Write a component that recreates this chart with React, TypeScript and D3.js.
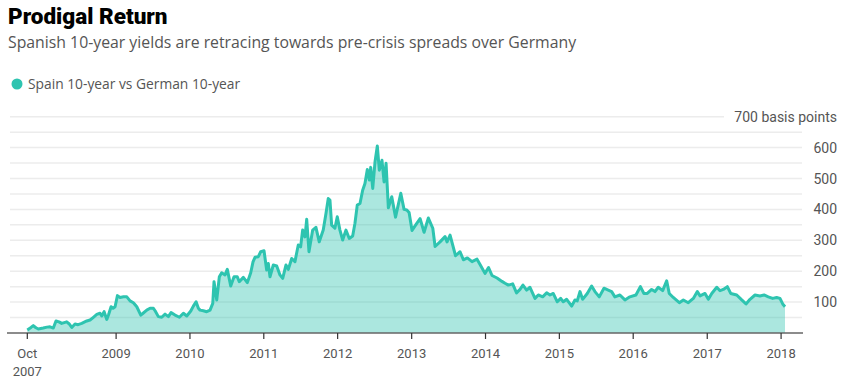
import React, { useEffect, useRef } from 'react';
import * as d3 from 'd3';

// decimal years
const years = [
  2007.800, 2007.850, 2007.881, 2007.917, 2007.949, 2008.016, 2008.066, 2008.107, 2008.152, 2008.188,
  2008.229, 2008.265, 2008.333, 2008.364, 2008.401, 2008.445, 2008.486, 2008.536, 2008.604, 2008.648,
  2008.689, 2008.739, 2008.783, 2008.806, 2008.838, 2008.874, 2008.899, 2008.932, 2008.959, 2008.986,
  2009.018, 2009.054, 2009.099, 2009.145, 2009.189, 2009.234, 2009.280, 2009.334, 2009.365, 2009.415,
  2009.460, 2009.505, 2009.528, 2009.572, 2009.618, 2009.663, 2009.708, 2009.744, 2009.798, 2009.857,
  2009.911, 2009.957, 2010.011, 2010.046, 2010.083, 2010.114, 2010.137, 2010.181, 2010.227, 2010.272,
  2010.309, 2010.326, 2010.363, 2010.398, 2010.430, 2010.475, 2010.506, 2010.552, 2010.597, 2010.641,
  2010.668, 2010.723, 2010.777, 2010.823, 2010.854, 2010.881, 2010.926, 2010.958, 2011.003, 2011.039,
  2011.061, 2011.084, 2011.129, 2011.175, 2011.219, 2011.256, 2011.300, 2011.332, 2011.378, 2011.422,
  2011.467, 2011.499, 2011.526, 2011.558, 2011.581, 2011.612, 2011.662, 2011.706, 2011.751, 2011.805,
  2011.842, 2011.873, 2011.896, 2011.919, 2011.963, 2011.995, 2012.031, 2012.068, 2012.112, 2012.157,
  2012.203, 2012.234, 2012.265, 2012.302, 2012.338, 2012.369, 2012.401, 2012.428, 2012.447, 2012.474,
  2012.505, 2012.536, 2012.563, 2012.599, 2012.627, 2012.654, 2012.685, 2012.731, 2012.782, 2012.853,
  2012.897, 2012.934, 2012.965, 2013.005, 2013.069, 2013.114, 2013.168, 2013.226, 2013.286, 2013.317,
  2013.384, 2013.452, 2013.479, 2013.520, 2013.594, 2013.655, 2013.700, 2013.754, 2013.817, 2013.885,
  2013.926, 2013.993, 2014.041, 2014.088, 2014.156, 2014.223, 2014.264, 2014.309, 2014.368, 2014.420,
  2014.467, 2014.507, 2014.557, 2014.602, 2014.670, 2014.715, 2014.774, 2014.828, 2014.873, 2014.917,
  2014.972, 2015.018, 2015.053, 2015.099, 2015.167, 2015.211, 2015.242, 2015.279, 2015.315, 2015.378,
  2015.437, 2015.482, 2015.540, 2015.604, 2015.662, 2015.708, 2015.752, 2015.820, 2015.888, 2015.955,
  2016.037, 2016.097, 2016.145, 2016.190, 2016.249, 2016.294, 2016.338, 2016.398, 2016.452, 2016.487,
  2016.541, 2016.623, 2016.677, 2016.744, 2016.812, 2016.866, 2016.903, 2016.970, 2017.015, 2017.061,
  2017.129, 2017.173, 2017.218, 2017.272, 2017.318, 2017.399, 2017.467, 2017.525, 2017.579, 2017.647,
  2017.714, 2017.769, 2017.827, 2017.886, 2017.940, 2017.985, 2018.022, 2018.053,
];

// Spain 10y minus German 10y, basis points
const spread = [
  10, 18, 24, 17, 13, 16, 19, 20, 16, 39,
  36, 31, 36, 30, 18, 29, 27, 31, 39, 42,
  50, 60, 64, 55, 69, 44, 60, 85, 80, 85,
  121, 115, 117, 117, 104, 98, 85, 58, 64, 74,
  80, 80, 72, 53, 51, 61, 53, 66, 58, 51,
  64, 55, 71, 87, 101, 80, 74, 72, 69, 74,
  96, 166, 107, 182, 195, 188, 206, 152, 182, 182,
  166, 180, 163, 195, 230, 245, 247, 263, 266, 204,
  225, 182, 220, 217, 188, 177, 220, 206, 241, 231,
  285, 279, 333, 311, 368, 263, 333, 342, 295, 333,
  387, 435, 430, 349, 339, 376, 333, 301, 333, 306,
  314, 355, 414, 419, 462, 484, 529, 495, 536, 468,
  554, 605, 527, 559, 489, 549, 405, 441, 375, 452,
  400, 398, 390, 332, 355, 370, 326, 372, 339, 280,
  295, 312, 295, 317, 250, 263, 237, 243, 231, 239,
  222, 193, 212, 186, 178, 167, 161, 155, 159, 130,
  141, 155, 139, 148, 112, 123, 117, 130, 123, 128,
  101, 112, 101, 109, 87, 107, 104, 134, 109, 128,
  152, 134, 117, 145, 139, 134, 117, 123, 107, 117,
  123, 150, 128, 128, 141, 134, 148, 137, 169, 128,
  115, 98, 107, 98, 112, 134, 120, 128, 109, 128,
  148, 137, 141, 150, 128, 123, 107, 94, 109, 123,
  120, 123, 117, 112, 115, 112, 94, 85,
];

const yTicks = [100, 200, 300, 400, 500, 600];
const gridLines = [50, 100, 150, 200, 250, 300, 350, 400, 450, 500, 550, 600, 650, 700];
const tickYears = [2009, 2010, 2011, 2012, 2013, 2014, 2015, 2016, 2017, 2018];

const toDate = (y: number) => {
  const yr = Math.floor(y);
  const a = Date.UTC(yr, 0, 1);
  const b = Date.UTC(yr + 1, 0, 1);
  return new Date(a + (y - yr) * (b - a));
};

const TEAL = '#2ec4b0';
const W = 857;
const H = 385;
const SANS = '"Open Sans", sans-serif';

const App: React.FC = () => {
  const svgRef = useRef<SVGSVGElement>(null);

  useEffect(() => {
    if (!svgRef.current) return;
    const svg = d3.select(svgRef.current);
    svg.selectAll('*').remove();

    const data = years.map((y, i) => ({ date: toDate(y), value: spread[i] }));

    const x = d3.scaleUtc()
      .domain([data[0].date, data[data.length - 1].date])
      .range([27.3, 785]);
    const y = d3.scaleLinear().domain([0, 700]).range([333, 116.7]);

    // header
    svg.append('text')
      .attr('x', 8).attr('y', 24)
      .style('font-family', 'Roboto, sans-serif')
      .style('font-weight', 900)
      .style('font-size', '22.5px')
      .attr('fill', '#000')
      .text('Prodigal Return');

    svg.append('text')
      .attr('x', 8).attr('y', 48)
      .style('font-family', SANS)
      .style('font-size', '15.8px')
      .attr('fill', '#555')
      .text('Spanish 10-year yields are retracing towards pre-crisis spreads over Germany');

    svg.append('circle')
      .attr('cx', 17).attr('cy', 84).attr('r', 5.5)
      .attr('fill', TEAL);
    svg.append('text')
      .attr('x', 28).attr('y', 88.5)
      .style('font-family', SANS)
      .style('font-size', '13.8px')
      .attr('fill', '#555')
      .text('Spain 10-year vs German 10-year');

    // grid
    gridLines.forEach(v => {
      svg.append('line')
        .attr('x1', 10)
        .attr('x2', v === 700 ? 724 : 802)
        .attr('y1', y(v)).attr('y2', y(v))
        .attr('stroke', '#ececec')
        .attr('stroke-width', 1.5);
    });

    // area + line
    const area = d3.area<{ date: Date; value: number }>()
      .x(d => x(d.date))
      .y0(y(0))
      .y1(d => y(d.value));
    const line = d3.line<{ date: Date; value: number }>()
      .x(d => x(d.date))
      .y(d => y(d.value));

    svg.append('path')
      .datum(data)
      .attr('d', area)
      .attr('fill', TEAL)
      .attr('fill-opacity', 0.4);

    svg.append('path')
      .datum(data)
      .attr('d', line)
      .attr('fill', 'none')
      .attr('stroke', TEAL)
      .attr('stroke-width', 3)
      .attr('stroke-linejoin', 'round');

    // x axis
    svg.append('line')
      .attr('x1', 7).attr('x2', 803)
      .attr('y1', y(0)).attr('y2', y(0))
      .attr('stroke', '#666')
      .attr('stroke-width', 1.5);

    const tickDates = [data[0].date, ...tickYears.map(t => new Date(Date.UTC(t, 0, 1)))];
    tickDates.forEach((d, i) => {
      const tx = x(d);
      svg.append('line')
        .attr('x1', tx).attr('x2', tx)
        .attr('y1', y(0)).attr('y2', y(0) + 6)
        .attr('stroke', '#333')
        .attr('stroke-width', 1.2);
      const lbl = svg.append('text')
        .attr('x', tx).attr('y', 358)
        .attr('text-anchor', 'middle')
        .style('font-family', 'Roboto, sans-serif')
        .style('font-size', '13px')
        .attr('fill', '#555');
      if (i === 0) {
        lbl.append('tspan').attr('x', tx).attr('dy', 0).text('Oct');
        lbl.append('tspan').attr('x', tx).attr('dy', 18).text('2007');
      } else {
        lbl.text(String(tickYears[i - 1]));
      }
    });

    // y labels
    yTicks.forEach(v => {
      svg.append('text')
        .attr('x', 837).attr('y', y(v) + 5)
        .attr('text-anchor', 'end')
        .style('font-family', 'Roboto, sans-serif')
        .style('font-size', '14px')
        .attr('fill', '#555')
        .text(v);
    });
    svg.append('text')
      .attr('x', 837).attr('y', y(700) + 5)
      .attr('text-anchor', 'end')
      .style('font-family', 'Roboto, sans-serif')
      .style('font-size', '14px')
      .attr('fill', '#555')
      .text('700 basis points');
  }, []);

  return (
    <div style={{ position: 'absolute', left: 0, top: 0, background: '#fff' }}>
      <svg ref={svgRef} width={W} height={H}></svg>
    </div>
  );
};

export default App;
